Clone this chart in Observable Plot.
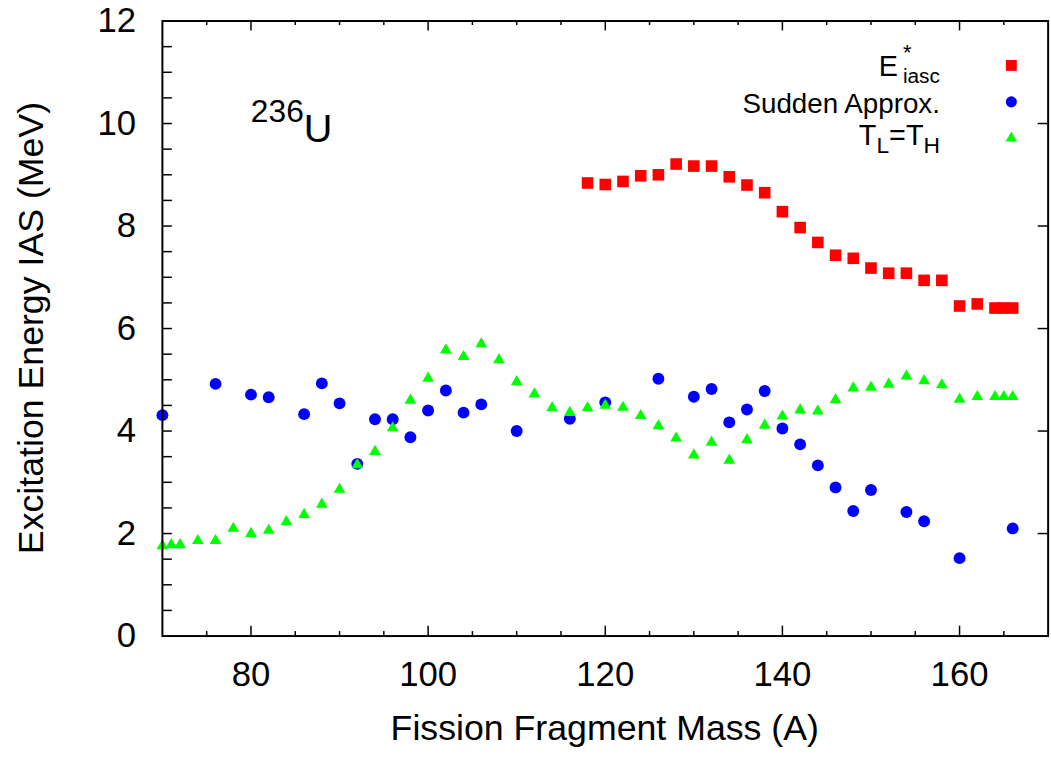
<!DOCTYPE html>
<html>
<head>
<meta charset="utf-8">
<script src="https://cdn.jsdelivr.net/npm/d3@7"></script>
<script src="https://cdn.jsdelivr.net/npm/@observablehq/plot@0.6"></script>
<style>
  html, body { margin: 0; padding: 0; background: #fff; overflow: hidden; }
  #chart { width: 1051px; height: 758px; overflow: hidden; }
</style>
</head>
<body>
<div id="chart"></div>
<script>
// ---- data ----
const eiascMass = [118,120,122,124,126,128,130,132,134,136,138,140,142,144,146,148,150,152,154,156,158,160,162,164,165,166];
const eiascE    = [8.84,8.81,8.87,8.98,9.00,9.21,9.17,9.17,8.96,8.80,8.65,8.28,7.97,7.68,7.43,7.37,7.18,7.08,7.08,6.94,6.94,6.44,6.48,6.40,6.40,6.40];

const suddenMass = [70,76,80,82,86,88,90,92,94,96,98,100,102,104,106,110,116,120,126,130,132,134,136,138,140,142,144,146,148,150,154,156,160,166];
const suddenE    = [4.31,4.92,4.71,4.66,4.33,4.93,4.54,3.36,4.23,4.23,3.88,4.40,4.79,4.36,4.52,4.00,4.24,4.56,5.02,4.67,4.82,4.17,4.42,4.78,4.05,3.74,3.33,2.90,2.44,2.85,2.42,2.24,1.52,2.10];

const tltMass = [70,71,72,74,76,78,80,82,84,86,88,90,92,94,96,98,100,102,104,106,108,110,112,114,116,118,120,122,124,126,128,130,132,134,136,138,140,142,144,146,148,150,152,154,156,158,160,162,164,165,166];
const tltE    = [1.76,1.78,1.78,1.86,1.86,2.10,2.00,2.06,2.23,2.37,2.57,2.86,3.34,3.60,4.06,4.60,5.03,5.58,5.45,5.70,5.39,4.96,4.72,4.45,4.36,4.45,4.50,4.46,4.30,4.10,3.86,3.53,3.78,3.43,3.83,4.11,4.29,4.41,4.39,4.61,4.84,4.85,4.91,5.07,4.98,4.90,4.62,4.67,4.67,4.67,4.67];

const xTickLabels = [80,100,120,140,160];
const yTickLabels = [0,2,4,6,8,10,12];
const xMinorTicks = d3.range(75, 170, 5);
const yLeftTicks = d3.range(0.5, 12, 0.5);
const yRightTicks = [2,4,6,8,10];

const xTitle = "Fission Fragment Mass (A)";
const yTitle = "Excitation Energy IAS (MeV)";

// ---- layout ----
const W = 1060, H = 758;
const mL = 163.3, mR = 3.4, mT = 20.7, mB = 117;
const fw = W - mL - mR, fh = H - mT - mB;

const toRows = (xs, ys) => xs.map((x, i) => ({x, y: ys[i]}));
const red = toRows(eiascMass, eiascE);
const blue = toRows(suddenMass, suddenE);
const green = toRows(tltMass, tltE);

const font = "'Liberation Sans', Arial, Helvetica, sans-serif";

const plot = Plot.plot({
  width: W, height: H,
  marginLeft: mL, marginRight: mR, marginTop: mT, marginBottom: mB,
  x: {domain: [70, 170]},
  y: {domain: [0, 12]},
  style: {fontFamily: font, fontSize: "35px", color: "black", background: "white", overflow: "visible"},
  marks: [
    Plot.tickX(xTickLabels, {x: d => d, insetTop: fh - 10, stroke: "black", strokeWidth: 1.5}),
    Plot.tickX(xTickLabels, {x: d => d, insetBottom: fh - 10, stroke: "black", strokeWidth: 1.5}),
    Plot.tickX(xMinorTicks.filter(v => !xTickLabels.includes(v)), {x: d => d, insetTop: fh - 4.5, stroke: "black", strokeWidth: 1.5}),
    Plot.tickX(xMinorTicks.filter(v => !xTickLabels.includes(v)), {x: d => d, insetBottom: fh - 4.5, stroke: "black", strokeWidth: 1.5}),
    Plot.tickY(yLeftTicks, {y: d => d, insetRight: fw - 10, stroke: "black", strokeWidth: 1.5}),
    Plot.tickY(yRightTicks, {y: d => d, insetLeft: fw - 10, stroke: "black", strokeWidth: 1.5}),
    Plot.axisX({ticks: xTickLabels, tickSize: 0, tickPadding: 26, label: null}),
    Plot.axisY({ticks: yTickLabels, tickSize: 0, tickPadding: 26.6, label: null}),
    Plot.dot(red, {x: "x", y: "y", symbol: "square", r: 6.6, fill: "#ff0000", stroke: "none"}),
    Plot.dot(blue, {x: "x", y: "y", symbol: "circle", r: 6, fill: "#0000ff", stroke: "none"}),
    Plot.dot(green, {x: "x", y: "y", symbol: "triangle", r: 4.4, fill: "#00ff00", stroke: "none"}),
    Plot.frame({stroke: "black", strokeWidth: 2})
  ]
});

document.getElementById("chart").appendChild(plot);

const svg = d3.select(plot);

// axis titles
svg.append("text")
  .attr("x", mL + fw / 2).attr("y", 746.5)
  .attr("text-anchor", "middle").attr("font-size", 36).attr("fill", "black")
  .text(xTitle);
svg.append("text")
  .attr("transform", `translate(43.5,${mT + fh / 2}) rotate(-90)`)
  .attr("text-anchor", "middle").attr("font-size", 36).attr("fill", "black")
  .text(yTitle);

// 236U annotation
const ann = svg.append("text").attr("x", 253).attr("y", 143).attr("text-anchor", "start").attr("fill", "black");
ann.append("tspan").attr("font-size", 32).attr("dy", -20).text("236");
ann.append("tspan").attr("font-size", 40).attr("dy", 20).text("U");

// legend
const lx = 948, sx = 1020;
const rowY = [66, 102.7, 139.3];
// row 1: E^*_iasc (superscript and subscript stacked)
const t1 = svg.append("text").attr("x", lx).attr("y", 76.7).attr("text-anchor", "end").attr("font-size", 29).attr("fill", "black");
t1.append("tspan").text("E");
t1.append("tspan").attr("font-size", 22).attr("dx", 5).attr("dy", -16).text("*");
t1.append("tspan").attr("font-size", 21).attr("dx", -8.5).attr("dy", 23.3).text("iasc");
// row 2
svg.append("text").attr("x", lx).attr("y", 114).attr("text-anchor", "end").attr("font-size", 28).attr("fill", "black").text("Sudden Approx.");
// row 3: T_L=T_H
const t3 = svg.append("text").attr("x", lx).attr("y", 146.7).attr("text-anchor", "end").attr("font-size", 29).attr("fill", "black");
t3.append("tspan").text("T");
t3.append("tspan").attr("font-size", 23).attr("dy", 8).text("L");
t3.append("tspan").attr("dy", -8).text("=T");
t3.append("tspan").attr("font-size", 23).attr("dy", 8).text("H");

const legSyms = [
  {type: d3.symbolSquare, size: 121, fill: "#ff0000"},
  {type: d3.symbolCircle, size: Math.PI * 5.6 * 5.6, fill: "#0000ff"},
  {type: d3.symbolTriangle, size: Math.PI * 4.3 * 4.3, fill: "#00ff00"}
];
legSyms.forEach((s, i) => {
  svg.append("path")
    .attr("transform", `translate(${sx},${rowY[i]})`)
    .attr("d", d3.symbol(s.type, s.size)())
    .attr("fill", s.fill);
});
</script>
</body>
</html>
